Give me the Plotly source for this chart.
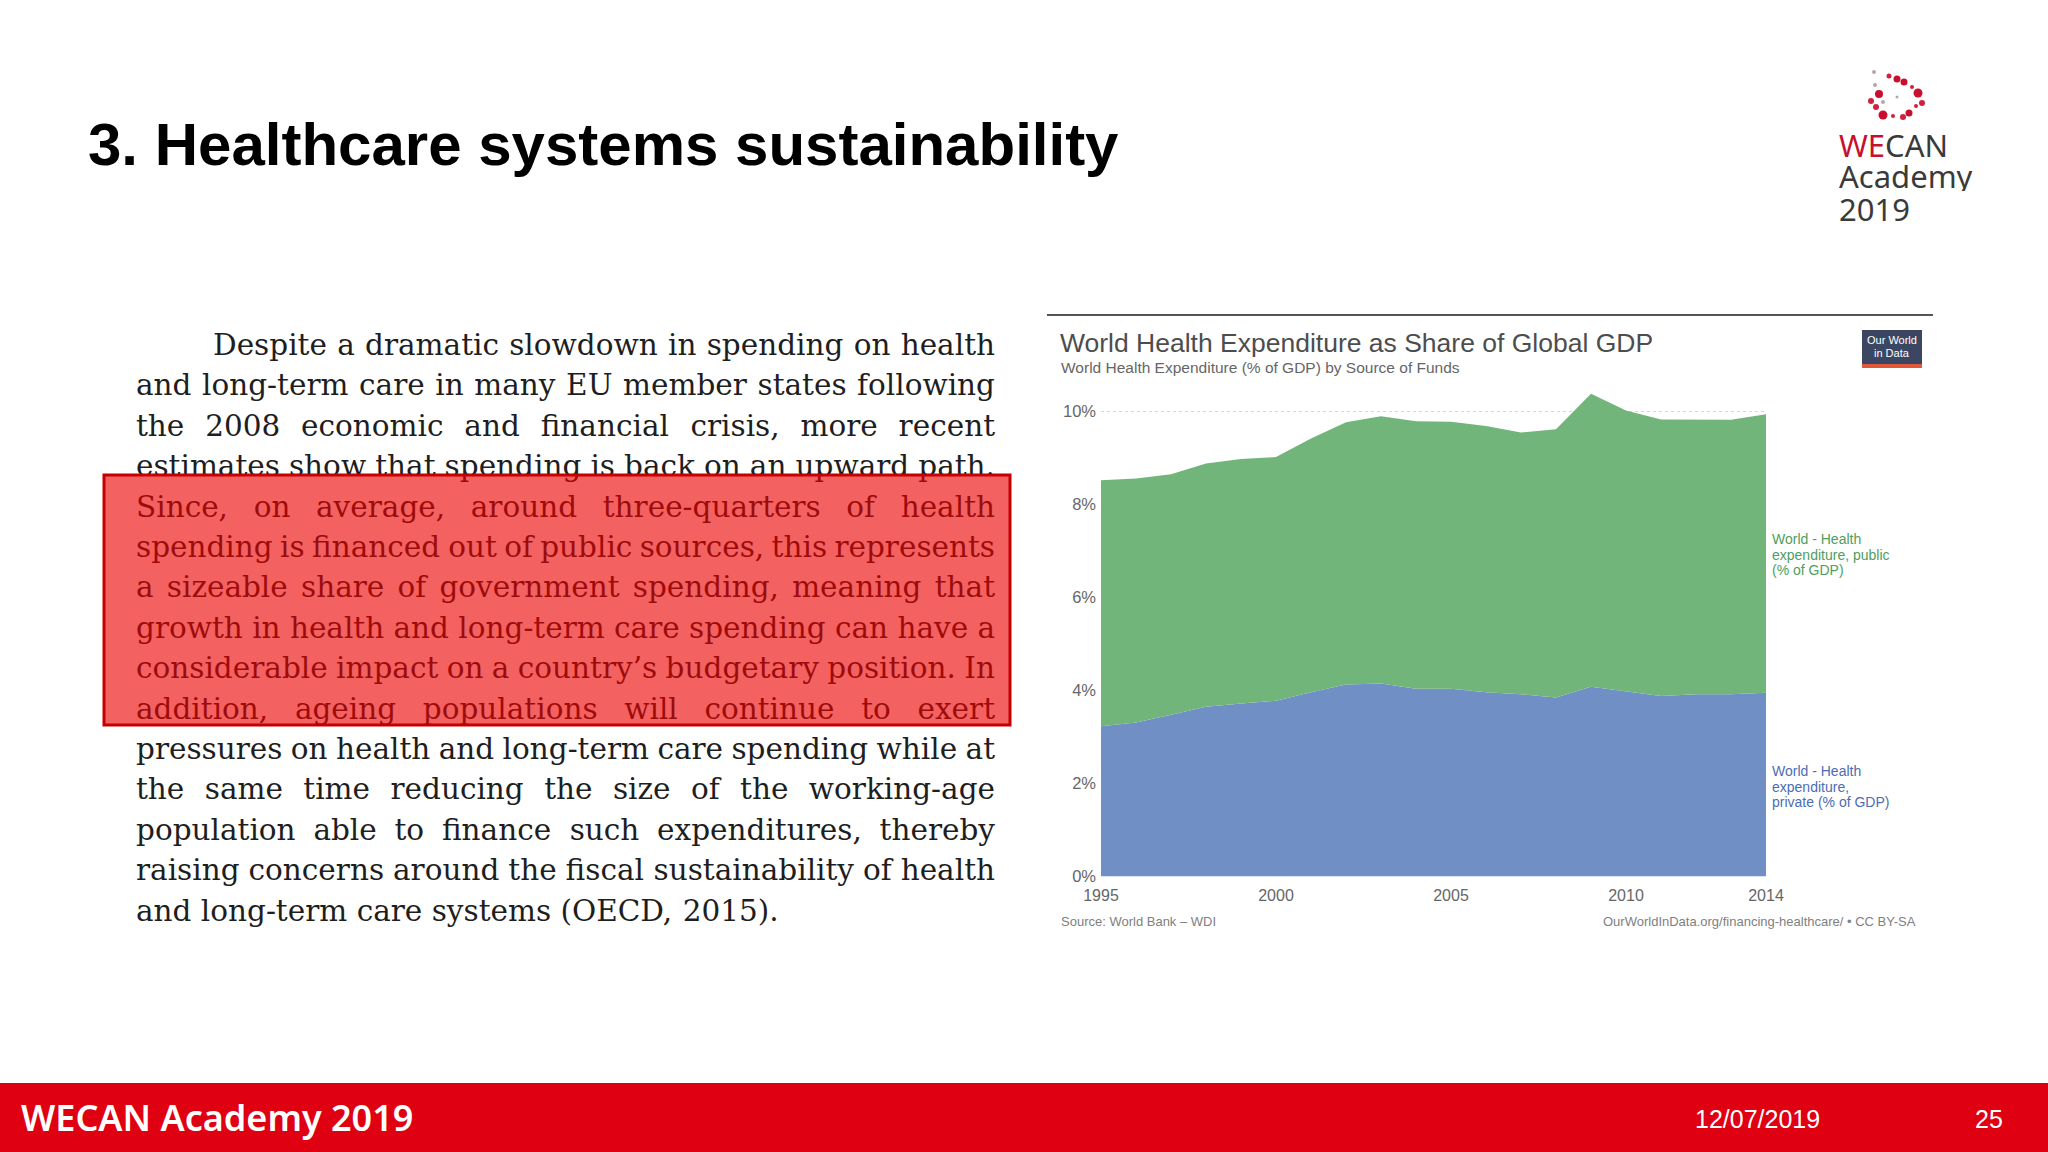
import plotly.graph_objects as go

# ---------------- data ----------------
years = list(range(1995, 2015))
private = [3.23, 3.31, 3.48, 3.65, 3.72, 3.78, 3.96, 4.13, 4.15, 4.04,
           4.04, 3.96, 3.92, 3.85, 4.08, 3.98, 3.88, 3.92, 3.92, 3.95]
public = [5.29, 5.25, 5.17, 5.23, 5.26, 5.24, 5.46, 5.64, 5.75, 5.75,
          5.74, 5.73, 5.63, 5.77, 6.30, 6.04, 5.95, 5.91, 5.90, 5.99]
x_tickvals = [1995, 2000, 2005, 2010, 2014]
y_tickvals = [0, 2, 4, 6, 8, 10]
y_ticktext = ["0%", "2%", "4%", "6%", "8%", "10%"]

slide_title = "3. Healthcare systems sustainability"
chart_title = "World Health Expenditure as Share of Global GDP"
chart_subtitle = "World Health Expenditure (% of GDP) by Source of Funds"
source_left = "Source: World Bank – WDI"
source_right = "OurWorldInData.org/financing-healthcare/ • CC BY-SA"
label_public = ["World - Health", "expenditure, public", "(% of GDP)"]
label_private = ["World - Health", "expenditure,", "private (% of GDP)"]
owid_lines = ["Our World", "in Data"]
logo_lines = ["WECAN", "Academy", "2019"]
footer_left = "WECAN Academy 2019"
footer_date = "12/07/2019"
footer_page = "25"
paragraph_lines = [
    "Despite a dramatic slowdown in spending on health",
    "and long-term care in many EU member states following",
    "the 2008 economic and financial crisis, more recent",
    "estimates show that spending is back on an upward path.",
    "Since, on average, around three-quarters of health",
    "spending is financed out of public sources, this represents",
    "a sizeable share of government spending, meaning that",
    "growth in health and long-term care spending can have a",
    "considerable impact on a country’s budgetary position. In",
    "addition, ageing populations will continue to exert",
    "pressures on health and long-term care spending while at",
    "the same time reducing the size of the working-age",
    "population able to finance such expenditures, thereby",
    "raising concerns around the fiscal sustainability of health",
    "and long-term care systems (OECD, 2015).",
]

# ---------------- styles ----------------
W_PX, H_PX = 2048, 1152
GREEN = "#71B57A"
BLUE = "#7090C5"
GREEN_TXT = "#4E9E5C"
BLUE_TXT = "#4C6DB2"
SANS = "Liberation Sans, Arial, sans-serif"
SERIF = "DejaVu Serif, serif"
LOGO_FONT = "Noto Sans, sans-serif"

# approximate glyph advance widths (em) for the serif text
_lw = dict(zip("abcdefghijklmnopqrstuvwxyz",
               [.596, .640, .560, .640, .592, .370, .640, .644, .320, .310, .606, .320, .948,
                .644, .602, .640, .640, .478, .513, .402, .644, .565, .856, .564, .565, .527]))
_uw = dict(zip("ABCDEFGHIJKLMNOPQRSTUVWXYZ",
               [.722, .735, .765, .802, .730, .694, .799, .872, .395, .401, .747, .664, 1.024,
                .875, .820, .673, .820, .753, .685, .667, .843, .722, 1.028, .712, .660, .695]))
_pw = {",": .318, ".": .318, "-": .338, "(": .390, ")": .390, "’": .318, "'": .275, " ": .318}


def text_em(s):
    tot = 0.0
    for ch in s:
        if ch in _lw:
            tot += _lw[ch]
        elif ch in _uw:
            tot += _uw[ch]
        elif ch.isdigit():
            tot += .636
        else:
            tot += _pw.get(ch, .5)
    return tot


# paragraph layout (justified)
P_LEFT, P_RIGHT, P_INDENT = 136, 995, 213
BASE0, LEAD, FS = 358, 40.4, 29.5
SP = 0.318
px, py, pt, ppos, psize = [], [], [], [], []
for i, line in enumerate(paragraph_lines):
    words = line.split(" ")
    x0 = P_INDENT if i == 0 else P_LEFT
    target = P_RIGHT - x0
    fs = FS
    wsum = sum(text_em(w) for w in words) * fs
    n = len(words)
    last = i == len(paragraph_lines) - 1
    if not last:
        min_total = wsum + (n - 1) * 0.20 * fs
        if min_total > target:
            fs = fs * target / min_total
            wsum = sum(text_em(w) for w in words) * fs
        gap = (target - wsum) / (n - 1)
    else:
        gap = SP * fs
    base = BASE0 + LEAD * i
    yc = base - 0.35 * fs
    cur = x0
    for k, w in enumerate(words):
        if (not last) and k == n - 1:
            px.append(P_RIGHT)
            ppos.append("middle left")
        else:
            px.append(cur)
            ppos.append("middle right")
        py.append(yc)
        pt.append(w)
        psize.append(fs)
        cur += text_em(w) * fs + gap

# chart geometry
X_DOM = [1101 / W_PX, 1766 / W_PX]
Y_RANGE = [0, 10.6]
Y0_PX, PX_PER = 876.5, 46.5
Y_DOM = [(H_PX - Y0_PX) / H_PX, (H_PX - (Y0_PX - Y_RANGE[1] * PX_PER)) / H_PX]

fig = go.Figure()

fig.add_trace(go.Scatter(
    x=years, y=private, mode="lines", stackgroup="one", name="private",
    line=dict(width=0, color=BLUE), fillcolor=BLUE, hoverinfo="skip",
))
fig.add_trace(go.Scatter(
    x=years, y=public, mode="lines", stackgroup="one", name="public",
    line=dict(width=0, color=GREEN), fillcolor=GREEN, hoverinfo="skip",
))

fig.add_trace(go.Scatter(
    x=px, y=py, text=pt, mode="text", textposition=ppos,
    textfont=dict(family=SERIF, size=psize, color="#1E1E1E"),
    xaxis="x2", yaxis="y2", hoverinfo="skip", showlegend=False, cliponaxis=False,
))

shapes = []
# footer band
shapes.append(dict(type="rect", xref="x2", yref="y2", x0=0, x1=W_PX, y0=1083, y1=H_PX,
                   fillcolor="#DF0012", line=dict(width=0), layer="below"))
# chart top rule
shapes.append(dict(type="line", xref="x2", yref="y2", x0=1047, x1=1933, y0=315, y1=315,
                   line=dict(color="#555555", width=2), layer="below"))
# OWID logo
shapes.append(dict(type="rect", xref="x2", yref="y2", x0=1862, x1=1922, y0=330, y1=364,
                   fillcolor="#3B4762", line=dict(width=0), layer="below"))
shapes.append(dict(type="rect", xref="x2", yref="y2", x0=1862, x1=1922, y0=364, y1=368,
                   fillcolor="#E0573A", line=dict(width=0), layer="below"))
# red highlight box over paragraph
shapes.append(dict(type="rect", xref="x2", yref="y2", x0=104, x1=1010, y0=475, y1=725,
                   fillcolor="rgba(235,0,0,0.62)", line=dict(color="#C40000", width=3),
                   layer="above"))
# WECAN logo dots (decoration)
logo_dots = [
    (1874, 72, 2, "#B9A6AA"), (1889, 76, 2.5, "#D0213F"), (1897, 79, 3.5, "#C8102E"),
    (1904, 82, 3.5, "#C8102E"), (1912, 87, 2, "#D0213F"), (1918, 93, 4.5, "#C8102E"),
    (1922, 103, 3, "#D0213F"), (1916, 106, 2, "#D0213F"), (1909, 113, 3.5, "#C8102E"),
    (1903, 117, 3, "#D0213F"), (1893, 116, 2, "#D0213F"), (1883, 115, 4.5, "#C8102E"),
    (1876, 107, 3, "#D0213F"), (1871, 101, 3, "#D0213F"), (1879, 94, 4, "#C8102E"),
    (1875, 85, 2, "#B9A6AA"), (1883, 102, 2, "#B9A6AA"), (1897, 97, 1.5, "#B9A6AA"),
]
for cx, cy, r, c in logo_dots:
    shapes.append(dict(type="circle", xref="x2", yref="y2", x0=cx - r, x1=cx + r,
                       y0=cy - r, y1=cy + r, fillcolor=c, line=dict(width=0), layer="below"))

ann = []


def A(text, x, y, size, color, family=SANS, xanchor="left", yanchor="middle", weight=None, **kw):
    f = dict(size=size, color=color, family=family)
    if weight is not None:
        f["weight"] = weight
    ann.append(dict(text=text, x=x, y=y, xref="x2", yref="y2", showarrow=False,
                    xanchor=xanchor, yanchor=yanchor, font=f, **kw))


A("<b>" + slide_title + "</b>", 86, 144, 60, "#000000")
A(chart_title, 1058, 343, 26.5, "#4D4D4D")
A(chart_subtitle, 1059, 367, 15.5, "#666666")
A(owid_lines[0], 1892, 340, 11, "#FFFFFF", xanchor="center")
A(owid_lines[1], 1892, 353, 11, "#FFFFFF", xanchor="center")
for j, t in enumerate(label_public):
    A(t, 1770, 539 + 15.5 * j, 14, GREEN_TXT)
for j, t in enumerate(label_private):
    A(t, 1770, 771 + 15.5 * j, 14, BLUE_TXT)
A(source_left, 1059, 921, 13, "#808080")
A(source_right, 1918, 921, 13, "#808080", xanchor="right")
# WECAN logo text (first two letters in crimson)
A("<span style='color:#C8102E'>" + logo_lines[0][:2] + "</span>" + logo_lines[0][2:],
  1837, 145, 31, "#3A3A3A", family=LOGO_FONT, height=30)
A(logo_lines[1], 1837, 176, 31, "#3A3A3A", family=LOGO_FONT, height=30)
A(logo_lines[2], 1837, 209, 31, "#3A3A3A", family=LOGO_FONT, height=30)
# footer
A(footer_left, 19, 1117, 36, "#FFFFFF", family=LOGO_FONT, weight=600)
A(footer_date, 1757, 1119, 25, "#FFFFFF", xanchor="center")
A(footer_page, 1989, 1119, 25, "#FFFFFF", xanchor="center")

fig.update_layout(
    width=W_PX, height=H_PX, autosize=False,
    margin=dict(l=0, r=0, t=0, b=0, pad=0),
    paper_bgcolor="#FFFFFF", plot_bgcolor="rgba(0,0,0,0)",
    showlegend=False,
    shapes=shapes, annotations=ann,
    xaxis=dict(domain=X_DOM, range=[1995, 2014], tickvals=x_tickvals,
               showgrid=False, zeroline=False, showline=False, ticks="",
               ticklabelstandoff=7,
               tickfont=dict(family=SANS, size=16, color="#666666"),
               fixedrange=True, anchor="y", automargin=False),
    yaxis=dict(domain=Y_DOM, range=Y_RANGE, tickvals=y_tickvals, ticktext=y_ticktext,
               showgrid=True, gridcolor="#D5D5D5", griddash="dot", gridwidth=1,
               zeroline=False, showline=False, ticks="",
               ticklabelstandoff=4,
               tickfont=dict(family=SANS, size=16.5, color="#666666"),
               fixedrange=True, anchor="x", automargin=False),
    xaxis2=dict(domain=[0, 1], range=[0, W_PX], visible=False, anchor="y2", fixedrange=True),
    yaxis2=dict(domain=[0, 1], range=[H_PX, 0], visible=False, anchor="x2", fixedrange=True),
)

fig.write_html("out.html", config={"displayModeBar": False},
               post_script="document.body.style.margin='0';")
